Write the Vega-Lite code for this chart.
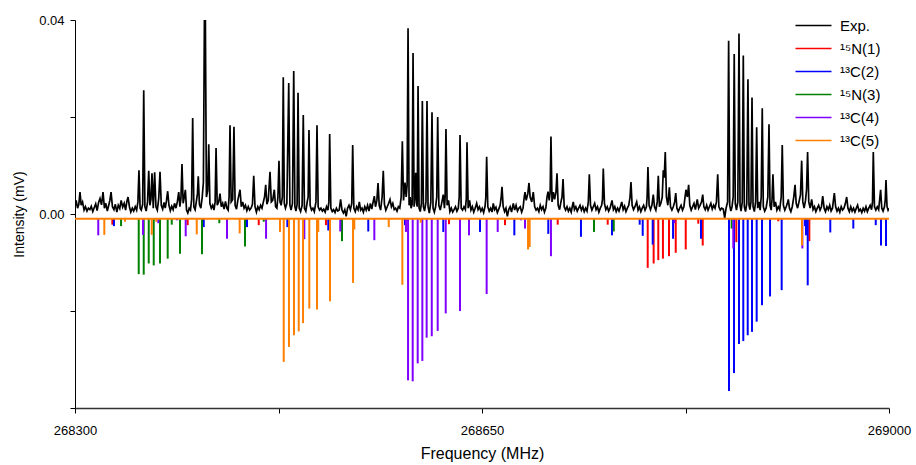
{
"$schema":"https://vega.github.io/schema/vega-lite/v6.json",
"width":814,"height":388,
"autosize":{"type":"none"},
"padding":{"left":75,"top":20,"right":27,"bottom":57},
"background":"white",
"config":{"view":{"stroke":null},"font":"Liberation Sans"},
"datasets":{
"exp":[
{"f":268300,"i":0.0015},{"f":268301,"i":0.0028},{"f":268302.2,"i":0.0012},{"f":268303.3,"i":0.002},{"f":268304.3,"i":0.0045},{"f":268305.3,"i":0.0018},{"f":268306.5,"i":0.0025},{"f":268307.8,"i":0.0008},{"f":268309,"i":0.0015},{"f":268310.3,"i":0.0006},{"f":268311.5,"i":0.0012},{"f":268312.8,"i":0.0009},{"f":268314,"i":0.0016},{"f":268315.3,"i":0.0005},{"f":268316.5,"i":0.0013},{"f":268317.8,"i":0.0021},{"f":268319,"i":0.0007},{"f":268320.3,"i":0.0024},{"f":268321.5,"i":0.0032},{"f":268322.8,"i":0.0019},{"f":268324.1,"i":0.0045},{"f":268325.3,"i":0.0012},{"f":268326.5,"i":0.0022},{"f":268327.8,"i":0.0006},{"f":268329,"i":0.0018},{"f":268330,"i":0.0028},{"f":268331,"i":0.0045},{"f":268332.2,"i":0.0015},{"f":268333.5,"i":0.0009},{"f":268334.7,"i":0.002},{"f":268336,"i":0.0004},{"f":268337.2,"i":0.0018},{"f":268338.5,"i":0.0011},{"f":268339.7,"i":0.0028},{"f":268341,"i":0.0014},{"f":268342.3,"i":0.0022},{"f":268343.5,"i":0.0008},{"f":268344.6,"i":0.0026},{"f":268345.6,"i":0.0035},{"f":268346.8,"i":0.0015},{"f":268348,"i":0.0004},{"f":268349.3,"i":0.0012},{"f":268350.5,"i":0.0006},{"f":268351.8,"i":0.0015},{"f":268353,"i":0.0008},{"f":268354.1,"i":0.0025},{"f":268355,"i":0.009},{"f":268356,"i":0.0012},{"f":268357,"i":0.0008},{"f":268358.2,"i":0.002},{"f":268359.1,"i":0.0255},{"f":268360.1,"i":0.0015},{"f":268361.2,"i":0.0006},{"f":268362.4,"i":0.0025},{"f":268363.4,"i":0.0089},{"f":268364.4,"i":0.0018},{"f":268365.3,"i":0.003},{"f":268366.2,"i":0.0084},{"f":268367.3,"i":0.0012},{"f":268368.5,"i":0.0086},{"f":268369.6,"i":0.0015},{"f":268370.8,"i":0.0008},{"f":268372,"i":0.0032},{"f":268373.1,"i":0.0087},{"f":268374.2,"i":0.0018},{"f":268375.4,"i":0.001},{"f":268376.6,"i":0.0024},{"f":268377.6,"i":0.0012},{"f":268378.7,"i":0.0028},{"f":268379.7,"i":0.0047},{"f":268380.8,"i":0.0018},{"f":268382,"i":0.0007},{"f":268383.2,"i":0.0016},{"f":268384.4,"i":0.0009},{"f":268385.6,"i":0.0022},{"f":268386.8,"i":0.0012},{"f":268388,"i":0.0025},{"f":268389.2,"i":0.0045},{"f":268390.2,"i":0.0015},{"f":268391.1,"i":0.0032},{"f":268392,"i":0.0103},{"f":268393,"i":0.0022},{"f":268394,"i":0.0035},{"f":268394.9,"i":0.005},{"f":268395.9,"i":0.0008},{"f":268397,"i":0.0002},{"f":268398.2,"i":0.0012},{"f":268399.3,"i":0.0008},{"f":268400.3,"i":0.003},{"f":268401.2,"i":0.0198},{"f":268402.2,"i":0.0015},{"f":268403.3,"i":0.0009},{"f":268404.5,"i":0.0028},{"f":268405.3,"i":0.0042},{"f":268406,"i":0.0078},{"f":268407,"i":0.002},{"f":268408.2,"i":0.0012},{"f":268409.4,"i":0.0035},{"f":268410.4,"i":0.0065},{"f":268411.3,"i":0.0405},{"f":268412.1,"i":0.0405},{"f":268413,"i":0.0035},{"f":268414.1,"i":0.0048},{"f":268415,"i":0.0144},{"f":268416,"i":0.0022},{"f":268417.2,"i":0.0012},{"f":268418.4,"i":0.0018},{"f":268419.5,"i":0.0008},{"f":268420.5,"i":0.0025},{"f":268421.3,"i":0.0136},{"f":268422.3,"i":0.0018},{"f":268423.6,"i":0.0025},{"f":268424.7,"i":0.0042},{"f":268425.8,"i":0.0015},{"f":268427,"i":0.0022},{"f":268428.2,"i":0.001},{"f":268429.4,"i":0.0026},{"f":268430.6,"i":0.0012},{"f":268431.7,"i":0.0008},{"f":268432.5,"i":0.0035},{"f":268433.3,"i":0.0183},{"f":268434.3,"i":0.0025},{"f":268435.6,"i":0.003},{"f":268436.7,"i":0.018},{"f":268437.7,"i":0.0018},{"f":268438.9,"i":0.001},{"f":268440,"i":0.0028},{"f":268441.9,"i":0.005},{"f":268443,"i":0.0015},{"f":268444.2,"i":0.0025},{"f":268445.4,"i":0.0012},{"f":268446.6,"i":0.0018},{"f":268447.8,"i":0.0007},{"f":268449,"i":0.0015},{"f":268450.2,"i":0.0008},{"f":268451.4,"i":0.0012},{"f":268452.6,"i":0.002},{"f":268453.7,"i":0.0079},{"f":268454.8,"i":0.0015},{"f":268456,"i":0.0004},{"f":268457.2,"i":0.0015},{"f":268458.4,"i":0.0009},{"f":268459.6,"i":0.0018},{"f":268460.8,"i":0.0012},{"f":268462,"i":0.0025},{"f":268463,"i":0.0035},{"f":268464,"i":0.006},{"f":268465,"i":0.002},{"f":268466.2,"i":0.0028},{"f":268467.7,"i":0.0087},{"f":268468.8,"i":0.0025},{"f":268470,"i":0.0028},{"f":268471.4,"i":0.005},{"f":268472.5,"i":0.0015},{"f":268473.6,"i":0.0012},{"f":268474.5,"i":0.0035},{"f":268475.4,"i":0.011},{"f":268476.3,"i":0.0025},{"f":268477.3,"i":0.0018},{"f":268478.3,"i":0.0035},{"f":268479.1,"i":0.0282},{"f":268480,"i":0.0022},{"f":268481,"i":0.0012},{"f":268482.2,"i":0.0022},{"f":268483.8,"i":0.027},{"f":268484.8,"i":0.0018},{"f":268485.8,"i":0.0008},{"f":268487,"i":0.0022},{"f":268488.1,"i":0.0295},{"f":268489.1,"i":0.0015},{"f":268490,"i":0.0006},{"f":268491,"i":0.002},{"f":268491.8,"i":0.025},{"f":268492.8,"i":0.0012},{"f":268494,"i":0.0005},{"f":268495.3,"i":0.0018},{"f":268496.3,"i":0.0204},{"f":268497.3,"i":0.0012},{"f":268498.5,"i":0.0006},{"f":268499.7,"i":0.0025},{"f":268500.5,"i":0.0035},{"f":268501.2,"i":0.0173},{"f":268502.2,"i":0.0018},{"f":268503.4,"i":0.0008},{"f":268504.6,"i":0.0012},{"f":268505.8,"i":0.0005},{"f":268507.2,"i":0.0025},{"f":268508.1,"i":0.0183},{"f":268509.1,"i":0.0015},{"f":268510.3,"i":0.0008},{"f":268511.5,"i":0.0012},{"f":268512.7,"i":0.0006},{"f":268513.9,"i":0.001},{"f":268515.1,"i":0.0004},{"f":268516.3,"i":0.0015},{"f":268517.5,"i":0.0008},{"f":268518.3,"i":0.0025},{"f":268519,"i":0.0165},{"f":268520,"i":0.0012},{"f":268521.2,"i":0.0005},{"f":268522.4,"i":0.0009},{"f":268523.6,"i":0.0003},{"f":268524.8,"i":0.0012},{"f":268526,"i":0.0006},{"f":268527.2,"i":0.0008},{"f":268528.4,"i":0.003},{"f":268529.6,"i":0.0008},{"f":268530.8,"i":0.0002},{"f":268532,"i":0.0009},{"f":268533.2,"i":-0.0005},{"f":268534.4,"i":0.0012},{"f":268535.6,"i":0.0018},{"f":268536.8,"i":0.0009},{"f":268538,"i":0.0022},{"f":268538.8,"i":0.0142},{"f":268539.8,"i":0.0012},{"f":268541,"i":0.0005},{"f":268542.2,"i":0.0015},{"f":268543.4,"i":0.0009},{"f":268544.5,"i":0.0025},{"f":268545.6,"i":0.0008},{"f":268546.8,"i":0.0012},{"f":268548,"i":0.0004},{"f":268549.2,"i":0.0015},{"f":268550.4,"i":0.0008},{"f":268551.6,"i":0.0018},{"f":268552.8,"i":0.0006},{"f":268554,"i":0.0022},{"f":268555.2,"i":0.001},{"f":268556.4,"i":0.0025},{"f":268557.4,"i":0.0037},{"f":268558.4,"i":0.0015},{"f":268559.6,"i":0.0028},{"f":268560.6,"i":0.0064},{"f":268561.6,"i":0.0018},{"f":268562.8,"i":0.0008},{"f":268564.1,"i":0.0035},{"f":268565.1,"i":0.0089},{"f":268566.1,"i":0.002},{"f":268567.3,"i":0.0008},{"f":268568.5,"i":0.0015},{"f":268569.7,"i":0.0022},{"f":268570.9,"i":0.003},{"f":268572.1,"i":0.0015},{"f":268573.3,"i":0.0022},{"f":268574.5,"i":0.0009},{"f":268575.7,"i":0.0012},{"f":268576.9,"i":0.0006},{"f":268578.1,"i":0.0015},{"f":268579.3,"i":0.0012},{"f":268580.5,"i":0.0035},{"f":268581.5,"i":0.015},{"f":268582.5,"i":0.0028},{"f":268583.8,"i":0.0065},{"f":268584.8,"i":0.0035},{"f":268585.6,"i":0.006},{"f":268586.4,"i":0.0383},{"f":268587.3,"i":0.0018},{"f":268588.2,"i":0.0035},{"f":268589,"i":0.0012},{"f":268589.9,"i":0.002},{"f":268590.7,"i":0.0332},{"f":268591.6,"i":0.0015},{"f":268592.4,"i":0.0035},{"f":268593,"i":0.0085},{"f":268593.8,"i":0.0022},{"f":268594.3,"i":0.0015},{"f":268595,"i":0.0264},{"f":268595.9,"i":0.0012},{"f":268596.9,"i":0.0005},{"f":268597.9,"i":0.0022},{"f":268598.7,"i":0.0233},{"f":268599.6,"i":0.0015},{"f":268600.6,"i":0.0006},{"f":268601.8,"i":0.0025},{"f":268602.7,"i":0.0233},{"f":268603.6,"i":0.0015},{"f":268604.7,"i":0.0002},{"f":268606,"i":0.0025},{"f":268607,"i":0.021},{"f":268607.9,"i":0.0012},{"f":268609,"i":0.0004},{"f":268610.1,"i":0.0015},{"f":268611.1,"i":0.0035},{"f":268611.9,"i":0.02},{"f":268612.9,"i":0.0018},{"f":268614.1,"i":0.0008},{"f":268615.3,"i":0.0022},{"f":268616.7,"i":0.004},{"f":268617.7,"i":0.0012},{"f":268618.3,"i":0.0035},{"f":268619,"i":0.0175},{"f":268620,"i":0.0018},{"f":268621.2,"i":0.0028},{"f":268622.4,"i":0.0005},{"f":268623.6,"i":0.0012},{"f":268624.8,"i":0.0004},{"f":268626,"i":0.0009},{"f":268627.2,"i":0.0015},{"f":268628.4,"i":0.0006},{"f":268629.6,"i":0.0012},{"f":268630.4,"i":0.0035},{"f":268631.1,"i":0.0163},{"f":268632.1,"i":0.0012},{"f":268633.3,"i":0.0008},{"f":268634.5,"i":0.0015},{"f":268635.7,"i":0.0009},{"f":268636.5,"i":0.0032},{"f":268637.1,"i":0.0148},{"f":268638.1,"i":0.0012},{"f":268639.3,"i":0.0028},{"f":268640.5,"i":0.0008},{"f":268641.7,"i":0.0015},{"f":268642.9,"i":0.0004},{"f":268644.1,"i":0.0012},{"f":268645.4,"i":0.0022},{"f":268646.6,"i":0.0009},{"f":268647.8,"i":0.0015},{"f":268649,"i":0.0006},{"f":268650.2,"i":0.0012},{"f":268651.4,"i":0.0003},{"f":268652.6,"i":0.0015},{"f":268653.3,"i":0.0035},{"f":268654,"i":0.0118},{"f":268655,"i":0.0015},{"f":268656.2,"i":0.0006},{"f":268657.4,"i":0.0012},{"f":268658.6,"i":0.0004},{"f":268659.7,"i":0.0022},{"f":268660.8,"i":0.0009},{"f":268662,"i":0.0014},{"f":268663.2,"i":0.0003},{"f":268664.4,"i":0.001},{"f":268665.6,"i":0.0018},{"f":268666.5,"i":0.0035},{"f":268667.2,"i":0.0056},{"f":268668.2,"i":0.0015},{"f":268669.4,"i":0.0005},{"f":268670.6,"i":0.0012},{"f":268671.8,"i":-0.0005},{"f":268673,"i":0.0009},{"f":268674.2,"i":0.0015},{"f":268675.4,"i":0.0004},{"f":268676.9,"i":0.0022},{"f":268678.1,"i":0.0008},{"f":268679.3,"i":0.0018},{"f":268680.5,"i":0.0006},{"f":268681.7,"i":0.0012},{"f":268682.9,"i":0.0015},{"f":268684.1,"i":0.0004},{"f":268685.3,"i":0.0012},{"f":268686.3,"i":0.0035},{"f":268687,"i":0.0045},{"f":268688,"i":0.0028},{"f":268689.4,"i":0.0042},{"f":268690.4,"i":0.0064},{"f":268691.4,"i":0.0035},{"f":268692.8,"i":0.0025},{"f":268694.1,"i":0.0045},{"f":268695.3,"i":0.0015},{"f":268696.5,"i":0.0008},{"f":268697.7,"i":0.0012},{"f":268698.9,"i":0.0005},{"f":268700.1,"i":0.0018},{"f":268701.3,"i":0.0009},{"f":268702.5,"i":0.0015},{"f":268703.7,"i":0.0004},{"f":268704.9,"i":0.0012},{"f":268705.9,"i":0.0035},{"f":268706.8,"i":0.0046},{"f":268707.8,"i":0.0028},{"f":268708.6,"i":0.0045},{"f":268709.3,"i":0.016},{"f":268710.2,"i":0.0025},{"f":268711.4,"i":0.0045},{"f":268712.4,"i":0.003},{"f":268713.6,"i":0.0045},{"f":268714.5,"i":0.0084},{"f":268715.5,"i":0.0018},{"f":268716.7,"i":0.0009},{"f":268717.9,"i":0.0025},{"f":268718.8,"i":0.0035},{"f":268719.7,"i":0.0072},{"f":268720.7,"i":0.0015},{"f":268721.9,"i":0.0008},{"f":268723.1,"i":0.0015},{"f":268724.3,"i":0.0006},{"f":268725.5,"i":0.0012},{"f":268726.7,"i":0.0004},{"f":268727.6,"i":0.0015},{"f":268728.5,"i":0.0025},{"f":268729.5,"i":0.0009},{"f":268730.7,"i":0.0015},{"f":268731.9,"i":0.0006},{"f":268733.1,"i":0.0012},{"f":268734.3,"i":0.0018},{"f":268735.5,"i":0.0008},{"f":268736.7,"i":0.0015},{"f":268737.9,"i":0.0005},{"f":268739.1,"i":0.0012},{"f":268740.3,"i":0.0006},{"f":268741.4,"i":0.0025},{"f":268742.3,"i":0.0082},{"f":268743.3,"i":0.0018},{"f":268744.5,"i":0.0008},{"f":268745.7,"i":0.0015},{"f":268746.9,"i":0.0022},{"f":268748.1,"i":0.0009},{"f":268749.3,"i":0.0015},{"f":268750.5,"i":0.0004},{"f":268751.7,"i":0.0012},{"f":268752.9,"i":0.0018},{"f":268753.6,"i":0.003},{"f":268754.3,"i":0.0094},{"f":268755.3,"i":0.0022},{"f":268756.5,"i":0.0009},{"f":268757.7,"i":0.0015},{"f":268758.9,"i":0.0006},{"f":268760.1,"i":0.0012},{"f":268761.8,"i":0.0028},{"f":268763,"i":0.0009},{"f":268764.2,"i":0.0015},{"f":268765.4,"i":0.0005},{"f":268766.6,"i":0.0012},{"f":268767.8,"i":0.0006},{"f":268769,"i":0.0015},{"f":268770.2,"i":0.0025},{"f":268771.4,"i":0.0009},{"f":268772.6,"i":0.0016},{"f":268773.8,"i":0.0005},{"f":268775,"i":0.0012},{"f":268776.2,"i":0.0018},{"f":268777.3,"i":0.0035},{"f":268778.1,"i":0.0066},{"f":268779.1,"i":0.0018},{"f":268780.3,"i":0.0009},{"f":268781.5,"i":0.0015},{"f":268783,"i":0.0025},{"f":268784.2,"i":0.0008},{"f":268785.4,"i":0.0015},{"f":268786.6,"i":0.0005},{"f":268787.8,"i":0.0012},{"f":268789,"i":0.0018},{"f":268790.2,"i":0.0008},{"f":268791.4,"i":0.0015},{"f":268792,"i":0.0035},{"f":268792.7,"i":0.0097},{"f":268793.7,"i":0.0018},{"f":268794.9,"i":0.0009},{"f":268796.1,"i":0.0018},{"f":268797.3,"i":0.004},{"f":268798.3,"i":0.0015},{"f":268799.5,"i":0.0008},{"f":268800.7,"i":0.0025},{"f":268801.6,"i":0.0079},{"f":268802.6,"i":0.0015},{"f":268803.8,"i":0.0022},{"f":268805,"i":0.0035},{"f":268805.9,"i":0.009},{"f":268806.7,"i":0.0075},{"f":268807.6,"i":0.0128},{"f":268808.6,"i":0.0035},{"f":268809.8,"i":0.0018},{"f":268811.1,"i":0.0055},{"f":268812.1,"i":0.0015},{"f":268813.3,"i":0.0008},{"f":268814.5,"i":0.0015},{"f":268815.7,"i":0.0025},{"f":268816.6,"i":0.0043},{"f":268817.6,"i":0.0012},{"f":268818.8,"i":0.0005},{"f":268820,"i":0.0012},{"f":268821.2,"i":0.0018},{"f":268822.4,"i":0.0008},{"f":268823.6,"i":0.0015},{"f":268824.6,"i":0.0035},{"f":268825.4,"i":0.005},{"f":268826.6,"i":0.0035},{"f":268827.7,"i":0.006},{"f":268828.7,"i":0.0018},{"f":268829.9,"i":0.0008},{"f":268831.1,"i":0.0015},{"f":268832.3,"i":0.0022},{"f":268833.5,"i":0.0009},{"f":268835.1,"i":0.003},{"f":268836.3,"i":0.0012},{"f":268837.5,"i":0.0018},{"f":268838.8,"i":0.0025},{"f":268839.8,"i":0.004},{"f":268840.8,"i":0.0015},{"f":268842,"i":0.0009},{"f":268843.2,"i":0.0018},{"f":268844.4,"i":0.0008},{"f":268845.6,"i":0.0015},{"f":268846.8,"i":0.0022},{"f":268848,"i":0.001},{"f":268849.2,"i":0.0018},{"f":268850.4,"i":0.0012},{"f":268851.6,"i":0.0025},{"f":268852.7,"i":0.0082},{"f":268853.7,"i":0.0015},{"f":268854.9,"i":0.0008},{"f":268856.1,"i":0.0012},{"f":268857.5,"i":0.001},{"f":268858.7,"i":-0.0008},{"f":268859.9,"i":0.0012},{"f":268861.2,"i":0.0025},{"f":268862.1,"i":0.0357},{"f":268863,"i":0.0018},{"f":268864,"i":0.0006},{"f":268865,"i":0.0015},{"f":268866,"i":0.0035},{"f":268866.9,"i":0.033},{"f":268867.8,"i":0.0022},{"f":268868.8,"i":0.0008},{"f":268870,"i":0.0025},{"f":268871,"i":0.0372},{"f":268871.9,"i":0.0018},{"f":268872.8,"i":0.0006},{"f":268873.8,"i":0.0025},{"f":268874.7,"i":0.0327},{"f":268875.6,"i":0.0015},{"f":268876.6,"i":0.0005},{"f":268877.7,"i":0.0022},{"f":268878.7,"i":0.0278},{"f":268879.6,"i":0.0018},{"f":268880.4,"i":0.0009},{"f":268881.3,"i":0.0025},{"f":268882.2,"i":0.024},{"f":268883.1,"i":0.0015},{"f":268884.2,"i":0.0005},{"f":268885.3,"i":0.0025},{"f":268886.2,"i":0.0179},{"f":268887.1,"i":0.0012},{"f":268888.2,"i":0.0025},{"f":268889.2,"i":0.0008},{"f":268890.1,"i":0.0035},{"f":268891,"i":0.0218},{"f":268891.9,"i":0.0015},{"f":268893.1,"i":0.0006},{"f":268894.3,"i":0.0012},{"f":268895.8,"i":0.0035},{"f":268896.8,"i":0.0185},{"f":268897.7,"i":0.0018},{"f":268898.7,"i":0.0008},{"f":268899.4,"i":0.003},{"f":268900.2,"i":0.0082},{"f":268901.2,"i":0.0015},{"f":268902.4,"i":0.0025},{"f":268903.6,"i":0.0008},{"f":268904.8,"i":0.0015},{"f":268906,"i":0.0009},{"f":268907.3,"i":0.0035},{"f":268908.2,"i":0.0142},{"f":268909.2,"i":0.0018},{"f":268910.4,"i":0.0008},{"f":268911.6,"i":0.0015},{"f":268912.6,"i":0.0022},{"f":268913.4,"i":0.003},{"f":268914.4,"i":0.0012},{"f":268915.6,"i":0.0005},{"f":268916.8,"i":0.0015},{"f":268918.1,"i":0.0035},{"f":268919.2,"i":0.006},{"f":268920.2,"i":0.0022},{"f":268921.4,"i":0.0012},{"f":268922.6,"i":0.0025},{"f":268923.9,"i":0.004},{"f":268924.9,"i":0.011},{"f":268925.9,"i":0.0025},{"f":268927,"i":0.0012},{"f":268928.2,"i":0.0028},{"f":268929.1,"i":0.005},{"f":268930,"i":0.0128},{"f":268931,"i":0.0025},{"f":268932.2,"i":0.0012},{"f":268933.5,"i":0.003},{"f":268934.7,"i":0.0009},{"f":268935.9,"i":0.0015},{"f":268937.1,"i":0.0005},{"f":268938.3,"i":0.0012},{"f":268939.5,"i":0.0018},{"f":268940.7,"i":0.0008},{"f":268941.9,"i":0.0015},{"f":268943,"i":0.0037},{"f":268944.2,"i":0.0012},{"f":268945.4,"i":0.0005},{"f":268946.6,"i":0.0015},{"f":268947.8,"i":0.0009},{"f":268949,"i":0.0018},{"f":268950.2,"i":0.0006},{"f":268951.4,"i":0.0012},{"f":268952.2,"i":0.0028},{"f":268953,"i":0.0043},{"f":268954.1,"i":0.0015},{"f":268955.3,"i":0.0006},{"f":268956.5,"i":0.0012},{"f":268957.7,"i":0.0004},{"f":268958.9,"i":0.0015},{"f":268960.1,"i":0.0008},{"f":268961.3,"i":0.0012},{"f":268962.5,"i":0.0022},{"f":268963.6,"i":0.0035},{"f":268964.7,"i":0.0012},{"f":268965.9,"i":0.0005},{"f":268967.1,"i":0.0015},{"f":268968.3,"i":0.0006},{"f":268969.5,"i":0.0012},{"f":268970.7,"i":0.0004},{"f":268971.9,"i":0.0012},{"f":268973,"i":0.0018},{"f":268974.2,"i":0.0006},{"f":268975.4,"i":0.001},{"f":268976.6,"i":0.0003},{"f":268977.8,"i":0.0012},{"f":268979,"i":0.0006},{"f":268980.2,"i":0.0015},{"f":268981.4,"i":0.0005},{"f":268982.6,"i":0.0012},{"f":268983.8,"i":0.0018},{"f":268985,"i":0.0009},{"f":268985.8,"i":0.0025},{"f":268986.5,"i":0.0128},{"f":268987.5,"i":0.0015},{"f":268988.7,"i":0.0008},{"f":268989.9,"i":0.0015},{"f":268991.1,"i":0.0009},{"f":268992,"i":0.003},{"f":268992.8,"i":0.005},{"f":268993.8,"i":0.0012},{"f":268994.9,"i":0.0006},{"f":268996.1,"i":0.0015},{"f":268996.8,"i":0.003},{"f":268997.4,"i":0.007},{"f":268998.3,"i":0.0015},{"f":268999.2,"i":0.0008},{"f":269000,"i":0.0012}
],
"sticks":[
{"s":"¹⁵N(1)","f":268332.1,"v":-0.0022},{"s":"¹⁵N(1)","f":268396.9,"v":-0.0023},{"s":"¹⁵N(1)","f":268458,"v":-0.0023},{"s":"¹⁵N(1)","f":268515.8,"v":-0.0023},{"s":"¹⁵N(1)","f":268621.6,"v":-0.0021},{"s":"¹⁵N(1)","f":268669.8,"v":-0.0023},{"s":"¹⁵N(1)","f":268715.1,"v":-0.0022},{"s":"¹⁵N(1)","f":268758.1,"v":-0.0022},{"s":"¹⁵N(1)","f":268792.5,"v":-0.0111},{"s":"¹⁵N(1)","f":268797.6,"v":-0.0102},{"s":"¹⁵N(1)","f":268801.6,"v":-0.0095},{"s":"¹⁵N(1)","f":268805.6,"v":-0.0092},{"s":"¹⁵N(1)","f":268810.8,"v":-0.0087},{"s":"¹⁵N(1)","f":268816.6,"v":-0.008},{"s":"¹⁵N(1)","f":268825.2,"v":-0.0073},{"s":"¹⁵N(1)","f":268836,"v":-0.002},{"s":"¹⁵N(1)","f":268839.8,"v":-0.0065},{"s":"¹⁵N(1)","f":268868.7,"v":-0.0058},{"s":"¹⁵N(1)","f":268904.8,"v":-0.0015},{"s":"¹⁵N(1)","f":268931.5,"v":-0.0056},
{"s":"¹³C(2)","f":268333.5,"v":-0.0025},{"s":"¹³C(2)","f":268410.7,"v":-0.0027},{"s":"¹³C(2)","f":268447.9,"v":-0.0027},{"s":"¹³C(2)","f":268482.6,"v":-0.0027},{"s":"¹³C(2)","f":268517.8,"v":-0.0034},{"s":"¹³C(2)","f":268552.2,"v":-0.0036},{"s":"¹³C(2)","f":268583.8,"v":-0.0023},{"s":"¹³C(2)","f":268616.7,"v":-0.0037},{"s":"¹³C(2)","f":268648.3,"v":-0.0037},{"s":"¹³C(2)","f":268677.8,"v":-0.0044},{"s":"¹³C(2)","f":268707,"v":-0.0041},{"s":"¹³C(2)","f":268735.1,"v":-0.0047},{"s":"¹³C(2)","f":268761.8,"v":-0.0044},{"s":"¹³C(2)","f":268785.6,"v":-0.0022},{"s":"¹³C(2)","f":268788.2,"v":-0.0045},{"s":"¹³C(2)","f":268796.8,"v":-0.0063},{"s":"¹³C(2)","f":268814.3,"v":-0.0051},{"s":"¹³C(2)","f":268838.3,"v":-0.0051},{"s":"¹³C(2)","f":268862.4,"v":-0.0365},{"s":"¹³C(2)","f":268866.7,"v":-0.0328},{"s":"¹³C(2)","f":268871,"v":-0.0268},{"s":"¹³C(2)","f":268874.7,"v":-0.0262},{"s":"¹³C(2)","f":268878.5,"v":-0.025},{"s":"¹³C(2)","f":268882.2,"v":-0.0243},{"s":"¹³C(2)","f":268886.2,"v":-0.0222},{"s":"¹³C(2)","f":268890.8,"v":-0.0188},{"s":"¹³C(2)","f":268897.7,"v":-0.017},{"s":"¹³C(2)","f":268907.7,"v":-0.0157},{"s":"¹³C(2)","f":268927.8,"v":-0.0025},{"s":"¹³C(2)","f":268928.6,"v":-0.0044},{"s":"¹³C(2)","f":268930.1,"v":-0.0147},{"s":"¹³C(2)","f":268949.5,"v":-0.0038},{"s":"¹³C(2)","f":268969.3,"v":-0.003},{"s":"¹³C(2)","f":268988.6,"v":-0.0023},{"s":"¹³C(2)","f":268993.1,"v":-0.0065},{"s":"¹³C(2)","f":268997.4,"v":-0.0066},
{"s":"¹⁵N(3)","f":268339.6,"v":-0.0025},{"s":"¹⁵N(3)","f":268354.8,"v":-0.0124},{"s":"¹⁵N(3)","f":268359.1,"v":-0.0125},{"s":"¹⁵N(3)","f":268363.4,"v":-0.0102},{"s":"¹⁵N(3)","f":268367.7,"v":-0.0106},{"s":"¹⁵N(3)","f":268373.1,"v":-0.0102},{"s":"¹⁵N(3)","f":268379.7,"v":-0.0092},{"s":"¹⁵N(3)","f":268383.2,"v":-0.0022},{"s":"¹⁵N(3)","f":268390.3,"v":-0.0082},{"s":"¹⁵N(3)","f":268409.2,"v":-0.0083},{"s":"¹⁵N(3)","f":268424.1,"v":-0.0019},{"s":"¹⁵N(3)","f":268446.2,"v":-0.0067},{"s":"¹⁵N(3)","f":268462.3,"v":-0.0016},{"s":"¹⁵N(3)","f":268529.6,"v":-0.0056},{"s":"¹⁵N(3)","f":268746.3,"v":-0.0037},{"s":"¹⁵N(3)","f":268763.3,"v":-0.0036},{"s":"¹⁵N(3)","f":268864.7,"v":-0.003},
{"s":"¹³C(4)","f":268320,"v":-0.0044},{"s":"¹³C(4)","f":268358.5,"v":-0.0043},{"s":"¹³C(4)","f":268371.6,"v":-0.0019},{"s":"¹³C(4)","f":268387.7,"v":-0.0013},{"s":"¹³C(4)","f":268395.2,"v":-0.0046},{"s":"¹³C(4)","f":268430.7,"v":-0.0051},{"s":"¹³C(4)","f":268464.3,"v":-0.0051},{"s":"¹³C(4)","f":268497.2,"v":-0.0052},{"s":"¹³C(4)","f":268528.1,"v":-0.0036},{"s":"¹³C(4)","f":268557.4,"v":-0.0054},{"s":"¹³C(4)","f":268584.6,"v":-0.0037},{"s":"¹³C(4)","f":268586.4,"v":-0.0343},{"s":"¹³C(4)","f":268590.4,"v":-0.0345},{"s":"¹³C(4)","f":268594.7,"v":-0.0308},{"s":"¹³C(4)","f":268598.7,"v":-0.0303},{"s":"¹³C(4)","f":268602.4,"v":-0.0255},{"s":"¹³C(4)","f":268606.8,"v":-0.0252},{"s":"¹³C(4)","f":268611.9,"v":-0.0241},{"s":"¹³C(4)","f":268618.8,"v":-0.0205},{"s":"¹³C(4)","f":268631.1,"v":-0.02},{"s":"¹³C(4)","f":268638.8,"v":-0.0044},{"s":"¹³C(4)","f":268654,"v":-0.0165},{"s":"¹³C(4)","f":268663.5,"v":-0.0037},{"s":"¹³C(4)","f":268683.5,"v":-0.0013},{"s":"¹³C(4)","f":268687,"v":-0.003},{"s":"¹³C(4)","f":268709.3,"v":-0.0087},{"s":"¹³C(4)","f":268815.4,"v":-0.0019},{"s":"¹³C(4)","f":268866.1,"v":-0.0071},{"s":"¹³C(4)","f":268925.5,"v":-0.0071},
{"s":"¹³C(5)","f":268325.2,"v":-0.0043},{"s":"¹³C(5)","f":268343,"v":-0.0016},{"s":"¹³C(5)","f":268366,"v":-0.0043},{"s":"¹³C(5)","f":268369.9,"v":-0.0016},{"s":"¹³C(5)","f":268404.7,"v":-0.0042},{"s":"¹³C(5)","f":268441.6,"v":-0.004},{"s":"¹³C(5)","f":268476.3,"v":-0.0037},{"s":"¹³C(5)","f":268479.5,"v":-0.0305},{"s":"¹³C(5)","f":268484,"v":-0.0274},{"s":"¹³C(5)","f":268488.3,"v":-0.025},{"s":"¹³C(5)","f":268492.4,"v":-0.0242},{"s":"¹³C(5)","f":268496.1,"v":-0.0225},{"s":"¹³C(5)","f":268501.5,"v":-0.0195},{"s":"¹³C(5)","f":268508.1,"v":-0.0197},{"s":"¹³C(5)","f":268509.2,"v":-0.0037},{"s":"¹³C(5)","f":268519.3,"v":-0.018},{"s":"¹³C(5)","f":268539.1,"v":-0.0142},{"s":"¹³C(5)","f":268540.2,"v":-0.0032},{"s":"¹³C(5)","f":268569.8,"v":-0.0027},{"s":"¹³C(5)","f":268581.5,"v":-0.0146},{"s":"¹³C(5)","f":268597.3,"v":-0.0018},{"s":"¹³C(5)","f":268689.6,"v":-0.0073},{"s":"¹³C(5)","f":268691,"v":-0.0068},{"s":"¹³C(5)","f":268925.2,"v":-0.0065}
]
},
"layer":[
{"data":{"name":"exp"},
 "mark":{"type":"line","strokeWidth":1.7,"clip":true,"interpolate":"linear"},
 "encoding":{
  "x":{"field":"f","type":"quantitative","scale":{"domain":[268300,269000],"nice":false,"zero":false},
   "axis":{"title":"Frequency (MHz)","values":[268300,268475,268650,268825,269000],"format":"d","labelExpr":"(datum.value==268475||datum.value==268825)?'':datum.label","labelFlush":false,"labelFont":"Liberation Sans","labelFontSize":13,"labelColor":"black","labelPadding":11,"tickSize":5,"tickColor":"black","domainColor":"#333","domainWidth":1.5,"titleFont":"Liberation Sans","titleFontSize":16,"titleFontWeight":"normal","titleColor":"black","titlePadding":8,"grid":false}},
  "y":{"field":"i","type":"quantitative","scale":{"domain":[-0.04,0.04],"nice":false,"zero":false},
   "axis":{"title":"Intensity (mV)","values":[-0.04,-0.02,0,0.02,0.04],"format":".2f","labelExpr":"(datum.value==0.04||datum.value==0)?datum.label:''","labelFlush":false,"labelFontSize":13,"labelColor":"black","labelPadding":6,"tickSize":5,"tickColor":"black","domainColor":"black","titleFontSize":14,"titleFontWeight":"normal","titleColor":"black","titlePadding":12,"grid":false}},
  "color":{"datum":"Exp.","type":"nominal","scale":{"domain":["Exp.","¹⁵N(1)","¹³C(2)","¹⁵N(3)","¹³C(4)","¹³C(5)"],"range":["#000000","#ff0000","#0000ff","#008000","#8000ff","#ff8000"]},
   "legend":{"orient":"none","legendX":731,"legendY":-2,"title":null,"symbolType":"M-3,0L3,0","symbolSize":144,"symbolStrokeWidth":1.5,"labelFontSize":15,"labelColor":"black","labelOffset":19,"rowPadding":7,"padding":0}}
 }},
{"data":{"name":"sticks"},
 "mark":{"type":"rule","strokeWidth":2},
 "encoding":{
  "x":{"field":"f","type":"quantitative"},
  "y":{"field":"v","type":"quantitative"},
  "y2":{"datum":-0.001},
  "color":{"field":"s","type":"nominal","legend":{"title":null}}
 }},
{"data":{"values":[{"a":1}]},
 "mark":{"type":"rule","strokeWidth":2,"color":"#ff8000"},
 "encoding":{"y":{"datum":-0.001}}}
]
}
